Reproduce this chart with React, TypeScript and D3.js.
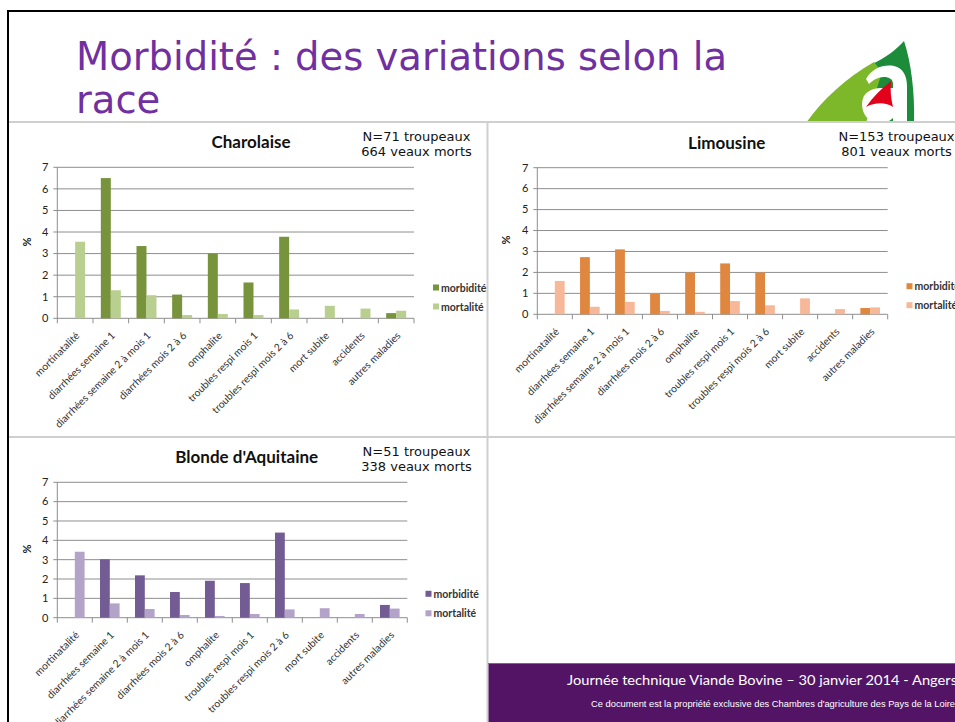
import React from 'react';
import * as d3 from 'd3';

const categories = [
  'mortinatalité',
  'diarrhées semaine 1',
  'diarrhées semaine 2 à mois 1',
  'diarrhées mois 2 à 6',
  'omphalite',
  'troubles respi mois 1',
  'troubles respi mois 2 à 6',
  'mort subite',
  'accidents',
  'autres maladies',
];
const seriesNames = ['morbidité', 'mortalité'];
const yTicks = [0, 1, 2, 3, 4, 5, 6, 7];

const charolaiseMorbidite = [0, 6.5, 3.35, 1.1, 3.0, 1.66, 3.78, 0, 0, 0.24];
const charolaiseMortalite = [3.55, 1.3, 1.07, 0.15, 0.2, 0.15, 0.41, 0.58, 0.45, 0.35];
const limousineMorbidite = [0, 2.73, 3.1, 0.97, 2.0, 2.43, 2.0, 0, 0, 0.3];
const limousineMortalite = [1.59, 0.36, 0.59, 0.16, 0.12, 0.63, 0.43, 0.76, 0.25, 0.33];
const blondeMorbidite = [0, 3.02, 2.19, 1.33, 1.91, 1.79, 4.4, 0, 0, 0.66];
const blondeMortalite = [3.41, 0.74, 0.45, 0.14, 0.09, 0.19, 0.43, 0.49, 0.19, 0.47];

const panelTitles = ['Charolaise', 'Limousine', "Blonde d'Aquitaine"];
const panelNotes = [
  ['N=71 troupeaux', '664 veaux morts'],
  ['N=153 troupeaux', '801 veaux morts'],
  ['N=51 troupeaux', '338 veaux morts'],
];

const slideTitle = ['Morbidité : des variations selon la', 'race'];
const footerLine1 = 'Journée technique Viande Bovine – 30 janvier 2014 - Angers';
const footerLine2 = "Ce document est la propriété exclusive des Chambres d'agriculture des Pays de la Loire";

const CAL = 'Lato, "Open Sans", sans-serif';
const VER = '"DejaVu Sans", Verdana, sans-serif';

type Layout = {
  x0: number; x1: number; yTop: number; yBottom: number;
  titleX: number; titleY: number; noteX: number; noteY: number;
  legendX: number; legendY: number; legendGap: number; pctX: number; pctY: number;
};

function BarPanel(props: {
  layout: Layout; title: string; note: string[]; morb: number[]; mort: number[]; colors: string[];
}) {
  const { layout: L, title, note, morb, mort, colors } = props;
  const x = d3.scaleBand<string>().domain(categories).range([L.x0, L.x1]).paddingInner(0).paddingOuter(0);
  const y = d3.scaleLinear().domain([0, 7]).range([L.yBottom, L.yTop]);
  const bw = x.bandwidth() * 0.28;
  const grid = '#8e8e8e';
  const series = [morb, mort];
  const boundaries = categories.map((c) => x(c) as number).concat([L.x1]);
  return (
    <g>
      {yTicks.map((t) => (
        <g key={'g' + t}>
          <line x1={L.x0 - 4} x2={L.x1} y1={y(t)} y2={y(t)} stroke={grid} strokeWidth={1} />
          <text x={L.x0 - 9} y={y(t)} dy="0.35em" textAnchor="end" fontFamily={CAL} fontSize={11} fill="#222">{t}</text>
        </g>
      ))}
      <line x1={L.x0} x2={L.x0} y1={L.yTop} y2={L.yBottom} stroke={grid} strokeWidth={1} />
      {boundaries.map((b, i) => (
        <line key={'xt' + i} x1={b} x2={b} y1={L.yBottom} y2={L.yBottom + 5} stroke={grid} strokeWidth={1} />
      ))}
      {series.map((vals, si) =>
        vals.map((v, i) => {
          const cx = (x(categories[i]) as number) + x.bandwidth() / 2;
          const bx = cx - bw + si * bw;
          return v > 0 ? (
            <rect key={'b' + si + '-' + i} x={bx} y={y(v)} width={bw} height={y(0) - y(v)} fill={colors[si]} />
          ) : null;
        })
      )}
      {categories.map((c) => {
        const cx = (x(c) as number) + x.bandwidth() / 2;
        const px = cx + 5;
        const py = L.yBottom + 18;
        return (
          <text key={'l' + c} x={px} y={py} transform={`rotate(-45 ${px} ${py})`} textAnchor="end"
            fontFamily={CAL} fontSize={10.3} fill="#333">{c}</text>
        );
      })}
      <text x={L.pctX} y={L.pctY} transform={`rotate(-90 ${L.pctX} ${L.pctY})`} textAnchor="middle"
        fontFamily={CAL} fontSize={11} fontWeight="bold" fill="#222">%</text>
      <text x={L.titleX} y={L.titleY} textAnchor="middle" fontFamily={CAL} fontSize={17} fontWeight="bold" fill="#111">{title}</text>
      {note.map((n, i) => (
        <text key={'n' + i} x={L.noteX} y={L.noteY + i * 15} textAnchor="middle" fontFamily={VER} fontSize={13} fill="#111">{n}</text>
      ))}
      {seriesNames.map((s, i) => (
        <g key={'lg' + s}>
          <rect x={L.legendX} y={L.legendY + i * L.legendGap - 3.5} width={6} height={6} fill={colors[i]} />
          <text x={L.legendX + 8} y={L.legendY + i * L.legendGap} dy="0.35em" fontFamily={CAL} fontSize={10.5}
            fontWeight="bold" fill="#333">{s}</text>
        </g>
      ))}
    </g>
  );
}

export default function App() {
  const layouts: Layout[] = [
    { x0: 57.3, x1: 414, yTop: 167.3, yBottom: 318.3, titleX: 251, titleY: 148, noteX: 416.5, noteY: 141,
      legendX: 433, legendY: 288, legendGap: 19, pctX: 31, pctY: 242 },
    { x0: 537.3, x1: 887.7, yTop: 167.7, yBottom: 314.3, titleX: 726.7, titleY: 149, noteX: 896.5, noteY: 141,
      legendX: 906.5, legendY: 286.7, legendGap: 19, pctX: 510, pctY: 240 },
    { x0: 57.3, x1: 407.3, yTop: 482.3, yBottom: 617.7, titleX: 246.7, titleY: 463, noteX: 416.5, noteY: 455.7,
      legendX: 425.5, legendY: 594.3, legendGap: 19.5, pctX: 31, pctY: 549 },
  ];
  const data = [
    [charolaiseMorbidite, charolaiseMortalite],
    [limousineMorbidite, limousineMortalite],
    [blondeMorbidite, blondeMortalite],
  ];
  const colors = [
    ['#77933c', '#b9cf90'],
    ['#df873f', '#f6b898'],
    ['#735b93', '#b3a3c8'],
  ];
  const panelLine = '#cfcfcf';
  return (
    <svg width={955} height={722} viewBox="0 0 955 722"
      style={{ position: 'absolute', left: 0, top: 0, background: '#fff', display: 'block' }}>
      <rect x={0} y={0} width={955} height={722} fill="#fff" />
      {/* slide border */}
      <line x1={8} x2={955} y1={11} y2={11} stroke="#000" strokeWidth={2} />
      <line x1={8} x2={8} y1={10} y2={722} stroke="#000" strokeWidth={2} />
      {/* title */}
      <text x={76} y={70} fontFamily={VER} fontSize={38.5} fill="#7030a0">{slideTitle[0]}</text>
      <text x={76} y={113} fontFamily={VER} fontSize={38.5} fill="#7030a0">{slideTitle[1]}</text>
      {/* logo */}
      <g>
        <path d="M 904 41 C 911 62 915 92 914 123 L 872 123 L 872 64 C 885 58 896 50 904 41 Z" fill="#1c8c3a" />
        <path d="M 806 123 C 822 100 846 78 874 62 L 882 72 L 866 123 Z" fill="#7cb82a" />
        <path d="M 866 79 C 872 68 884 64 894 66 C 903 68 907 76 907 86 L 907 123 L 893 123 L 893 118 C 889 122 883 124 877 123 C 867 121 862 113 862 104 C 862 93 871 88 881 88 L 893 88 L 893 84 C 893 79 889 77 884 77 C 878 77 873 80 869 84 Z" fill="#fff" />
        <path d="M 866 107 C 873 97 881 89 891 81 C 890 90 891 99 893 107 C 886 102 875 102 866 107 Z" fill="#e2001a" />
      </g>
      {/* panel frames */}
      <rect x={9} y={122} width={946} height={600} fill="#fff" />
      <line x1={9} x2={955} y1={122} y2={122} stroke={panelLine} strokeWidth={2} />
      <line x1={9} x2={955} y1={437} y2={437} stroke={panelLine} strokeWidth={2} />
      <line x1={487.5} x2={487.5} y1={122} y2={722} stroke={panelLine} strokeWidth={2} />
      {layouts.map((L, i) => (
        <BarPanel key={i} layout={L} title={panelTitles[i]} note={panelNotes[i]} morb={data[i][0]} mort={data[i][1]} colors={colors[i]} />
      ))}
      {/* footer */}
      <rect x={488.5} y={663} width={467} height={59} fill="#541466" />
      <line x1={488.5} x2={955} y1={663.5} y2={663.5} stroke="#8a5a9a" strokeWidth={1} />
      <text x={567} y={685} fontFamily={CAL} fontSize={14} fill="#fff" textLength={390} lengthAdjust="spacingAndGlyphs">{footerLine1}</text>
      <text x={591} y={707} fontFamily='"Liberation Sans", Arial, sans-serif' fontSize={9} fill="#fff" textLength={364} lengthAdjust="spacingAndGlyphs">{footerLine2}</text>
    </svg>
  );
}
